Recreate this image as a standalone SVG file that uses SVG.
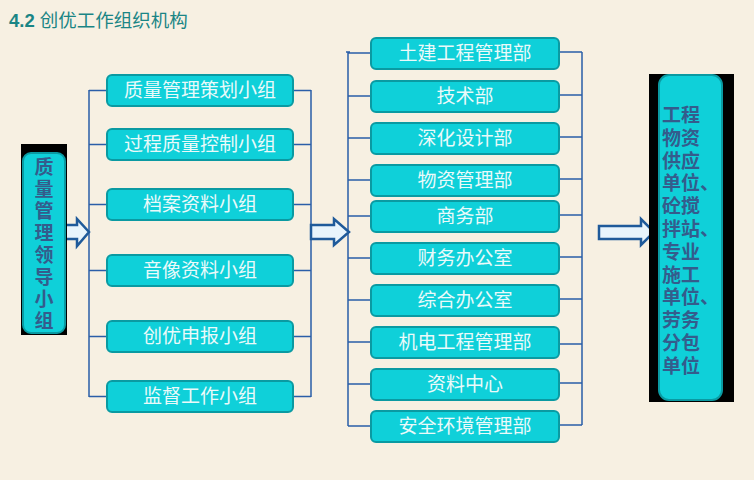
<svg xmlns="http://www.w3.org/2000/svg" width="754" height="480" viewBox="0 0 754 480">
<style>
.box{fill:#0fd0d9;stroke:#0a9aa2;stroke-width:2}
.bt{font-family:"Noto Sans CJK SC","Liberation Sans",sans-serif;font-size:19px;fill:#eafafa;text-anchor:middle}
.vt{font-family:"Noto Sans CJK SC","Liberation Sans",sans-serif;font-size:19px;font-weight:bold;fill:#345c8c}
.rt{font-family:"Liberation Sans","Noto Sans CJK SC",sans-serif;font-size:19px;font-weight:bold;fill:#345c8c}
.ln{stroke:#2a5ea8;stroke-width:1.5;fill:none}
.arr{fill:#e8f4fc;stroke:#1f5a9a;stroke-width:2.5;stroke-linejoin:miter}
</style>
<rect width="754" height="480" fill="#f7f0e2"/>
<text x="9" y="27" font-family="'Liberation Sans','Noto Sans CJK SC',sans-serif" font-size="18.5" fill="#1a8585"><tspan font-weight="bold">4.2</tspan> 创优工作组织机构</text>
<g id="connectors">
<path class="ln" d="M89,90 V397 M89,90.5 H107 M89,144.5 H107 M89,204.5 H107 M89,270.5 H107 M89,336.5 H107 M89,396.5 H107"/>
<path class="ln" d="M311,90 V397 M293,90.5 H311 M293,144.5 H311 M293,204.5 H311 M293,270.5 H311 M293,336.5 H311 M293,396.5 H311"/>
<path class="ln" d="M348,52 V426 M346,52 H350 M348,53 H371 M348,96 H371 M348,138 H371 M348,180 H371 M348,216 H371 M348,258 H371 M348,300 H371 M348,342 H371 M348,384 H371 M348,426 H371"/>
<path class="ln" d="M582,52 V425 M559,52 H582 M559,95 H582 M559,137 H582 M559,179 H582 M559,215 H582 M559,257 H582 M559,299 H582 M559,344 H582 M559,383 H582 M559,425 H582"/>
<polygon class="arr" points="64,225 77,225 77,219 89,232 77,246 77,239 64,239"/>
<polygon class="arr" points="311,225 334,225 334,219 349,232 334,245 334,239 311,239"/>
<polygon class="arr" points="599,226 641,226 641,219 654,232 641,245 641,239 599,239"/>
</g>
<g id="leader">
<rect x="21" y="144" width="46" height="191" fill="#000"/>
<rect class="box" x="23" y="153" width="42" height="180" rx="8"/>
<text class="vt" x="44" y="157" writing-mode="vertical-rl" letter-spacing="3">质量管理领导小组</text>
</g>
<g id="g1"><rect class="box" x="107" y="75" width="186" height="31" rx="5"/><text class="bt" x="200" y="97">质量管理策划小组</text></g>
<g id="g2"><rect class="box" x="107" y="129" width="186" height="31" rx="5"/><text class="bt" x="200" y="151">过程质量控制小组</text></g>
<g id="g3"><rect class="box" x="107" y="189" width="186" height="31" rx="5"/><text class="bt" x="200" y="211">档案资料小组</text></g>
<g id="g4"><rect class="box" x="107" y="255" width="186" height="31" rx="5"/><text class="bt" x="200" y="277">音像资料小组</text></g>
<g id="g5"><rect class="box" x="107" y="321" width="186" height="31" rx="5"/><text class="bt" x="200" y="343">创优申报小组</text></g>
<g id="g6"><rect class="box" x="107" y="381" width="186" height="31" rx="5"/><text class="bt" x="200" y="403">监督工作小组</text></g>
<g id="d1"><rect class="box" x="371" y="38" width="188" height="31" rx="5"/><text class="bt" x="465" y="60">土建工程管理部</text></g>
<g id="d2"><rect class="box" x="371" y="81" width="188" height="31" rx="5"/><text class="bt" x="465" y="103">技术部</text></g>
<g id="d3"><rect class="box" x="371" y="123" width="188" height="31" rx="5"/><text class="bt" x="465" y="145">深化设计部</text></g>
<g id="d4"><rect class="box" x="371" y="165" width="188" height="31" rx="5"/><text class="bt" x="465" y="187">物资管理部</text></g>
<g id="d5"><rect class="box" x="371" y="201" width="188" height="31" rx="5"/><text class="bt" x="465" y="223">商务部</text></g>
<g id="d6"><rect class="box" x="371" y="243" width="188" height="31" rx="5"/><text class="bt" x="465" y="265">财务办公室</text></g>
<g id="d7"><rect class="box" x="371" y="285" width="188" height="31" rx="5"/><text class="bt" x="465" y="307">综合办公室</text></g>
<g id="d8"><rect class="box" x="371" y="327" width="188" height="31" rx="5"/><text class="bt" x="465" y="349">机电工程管理部</text></g>
<g id="d9"><rect class="box" x="371" y="369" width="188" height="31" rx="5"/><text class="bt" x="465" y="391">资料中心</text></g>
<g id="d10"><rect class="box" x="371" y="411" width="188" height="31" rx="5"/><text class="bt" x="465" y="433">安全环境管理部</text></g>
<g id="supplier">
<rect x="649" y="74" width="85" height="328" fill="#000"/>
<rect class="box" x="659" y="75" width="63" height="325" rx="10"/>
<text class="rt"><tspan x="662" y="122">工程</tspan><tspan x="662" dy="22.8">物资</tspan><tspan x="662" dy="22.8">供应</tspan><tspan x="662" dy="22.8">单位、</tspan><tspan x="662" dy="22.8">砼搅</tspan><tspan x="662" dy="22.8">拌站、</tspan><tspan x="662" dy="22.8">专业</tspan><tspan x="662" dy="22.8">施工</tspan><tspan x="662" dy="22.8">单位、</tspan><tspan x="662" dy="22.8">劳务</tspan><tspan x="662" dy="22.8">分包</tspan><tspan x="662" dy="22.8">单位</tspan></text>
</g>
</svg>
